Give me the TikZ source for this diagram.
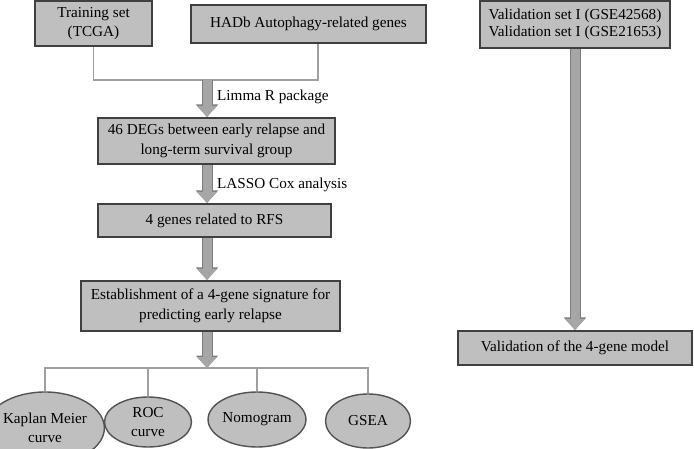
\documentclass[tikz,border=0pt]{standalone}
\usepackage{fontspec}
\setmainfont{Liberation Serif}
\usepackage{tikz}
\usetikzlibrary{arrows.meta,positioning,calc,shapes.geometric}
\definecolor{boxC}{RGB}{191,191,191}
\definecolor{edgeC}{RGB}{64,64,64}
\definecolor{linkC}{RGB}{160,160,160}
\definecolor{fatC}{RGB}{166,166,166}
\definecolor{fatE}{RGB}{125,125,125}

\begin{document}
\begin{tikzpicture}[
  x=1pt, y=-1pt,
  font=\fontsize{15.2}{19.5}\selectfont,
  box/.style={draw=edgeC, line width=2pt, fill=boxC, align=center,
              inner sep=0pt},
  oval/.style={ellipse, draw=edgeC!90, line width=1.4pt, fill=boxC,
               align=center, inner sep=0pt},
  link/.style={draw=linkC, line width=1.6pt},
  fat/.style={-{Triangle[width=19pt,length=11pt]}, draw=fatC,
              line width=9pt,
              preaction={draw=fatE, line width=11pt,
                         -{Triangle[width=21.5pt,length=12.5pt]}}},
  lbl/.style={anchor=west, inner sep=0pt},
]
\useasboundingbox (0,0) rectangle (694,449);

% ============ helper coordinates ============
\def\ax{207}   % main arrow column
\def\rx{575}   % validation column

% ===================== inputs =====================
\node[box, minimum width=117pt, minimum height=45pt] (train) at (93.5,23.5)
  {Training set\\(TCGA)};
\node[box, minimum width=235pt, minimum height=38pt] (hadb) at (308.5,24)
  {HADb Autophagy-related genes};
\coordinate (j1) at (\ax,80);
\coordinate (j2) at (318,80);
\draw[link] (train.south) |- (j2) -- (j2 |- hadb.south);

% ===================== main column =====================
\node[box, minimum width=237pt, minimum height=46pt] (deg) at (216.5,141)
  {46 DEGs between early relapse and\\long-term survival group};
\node[box, minimum width=233pt, minimum height=33pt] (genes) at (214.5,220.5)
  {4 genes related to RFS};
\node[box, minimum width=259pt, minimum height=50pt] (sig) at (210.5,306)
  {Establishment of a 4-gene signature for\\predicting early relapse};
\draw[fat] (j1) -- (j1 |- deg.north);
\draw[fat] (deg.south -| j1) -- (genes.north -| j1);
\draw[fat] (genes.south -| j1) -- (sig.north -| j1);
\node[lbl] (lb1) at (217,97) {Limma R package};
\node[lbl] (lb2) at (217,185) {LASSO Cox analysis};

% ===================== outcomes =====================
\coordinate (bus) at (\ax,368);
\node[oval, minimum width=93pt, minimum height=72pt] (km) at (45,428)
  {Kaplan Meier\\curve};
\node[oval, minimum width=87pt, minimum height=50pt] (roc) at (148,422)
  {ROC\\curve};
\node[oval, minimum width=88pt, minimum height=55pt] (nomo) at (257,419.5)
  {Nomogram};
\node[oval, minimum width=85pt, minimum height=54pt] (gsea) at (368,421)
  {GSEA};
\draw[fat] (sig.south -| bus) -- (bus);
\draw[link] (km.north) |- (bus) -| (gsea.north);
\draw[link] (roc.north) -- (roc.north |- bus);
\draw[link] (nomo.north) -- (nomo.north |- bus);

% ===================== validation =====================
\node[box, minimum width=190pt, minimum height=47pt] (val1) at (\rx,24.5)
  {Validation set I (GSE42568)\\[-3pt]Validation set I (GSE21653)};
\node[box, minimum width=234pt, minimum height=34pt] (val2) at (\rx,348)
  {Validation of the 4-gene model};
\draw[fat] (val1) -- (val2);

\end{tikzpicture}
\end{document}
